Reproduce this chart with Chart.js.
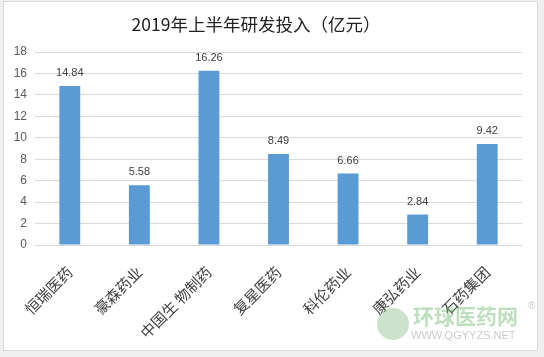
<!DOCTYPE html>
<html><head><meta charset="utf-8">
<script src="https://cdn.jsdelivr.net/npm/chart.js@4"></script>
<style>
html,body{margin:0;padding:0;background:#efefef;width:544px;height:357px;overflow:hidden;}
#box{position:absolute;left:3px;top:1px;width:533px;height:348px;background:#fff;border:1px solid #d9d9d9;}
canvas{display:block;}
</style></head><body>
<div id="box"><canvas id="c" width="533" height="348"></canvas></div>
<script>
const chartTitle = '2019年上半年研发投入（亿元）';
const categories = ['恒瑞医药','豪森药业','中国生 物制药','复星医药','科伦药业','康弘药业','石药集团'];
const values = [14.84, 5.58, 16.26, 8.49, 6.66, 2.84, 9.42];
const yTicks = [0,2,4,6,8,10,12,14,16,18];

const CJK = '"Microsoft YaHei","Noto Sans CJK SC",sans-serif';

const overlay = {
  id:'overlay',
  afterDatasetsDraw(chart){
    const ctx = chart.ctx;
    const meta = chart.getDatasetMeta(0);
    ctx.save();
    ctx.fillStyle = '#404040';
    ctx.font = '11px "Liberation Sans", Calibri, sans-serif';
    ctx.textAlign = 'center';
    ctx.textBaseline = 'middle';
    meta.data.forEach((bar,i)=>{
      ctx.fillText(values[i].toFixed(2), bar.x, bar.y - 13);
    });
    ctx.restore();
  },
  afterDraw(chart){
    const ctx = chart.ctx;
    ctx.save();
    ctx.fillStyle = '#222';
    ctx.font = '17.5px ' + CJK;
    ctx.textAlign = 'center';
    ctx.textBaseline = 'middle';
    ctx.fillText(chartTitle, 252, 22);
    // watermark
    ctx.globalAlpha = 0.45;
    ctx.fillStyle = '#8cc28c';
    ctx.beginPath(); ctx.arc(389, 322, 16, 0, Math.PI*2); ctx.fill();
    ctx.fillStyle = '#6fb86f';
    ctx.font = 'bold 21px ' + CJK;
    ctx.textAlign = 'left';
    ctx.fillText('环球医药网', 409, 314);
    ctx.fillStyle = '#8a8a8a';
    ctx.font = '11px "Liberation Sans", sans-serif';
    ctx.fillText('WWW.QGYYZS.NET', 407, 334);
    ctx.font = '10px "Liberation Sans", sans-serif';
    ctx.fillText('®', 524, 304);
    ctx.restore();
  }
};

new Chart(document.getElementById('c'), {
  type:'bar',
  data:{ labels:categories, datasets:[{ data:values, backgroundColor:'#5b9bd5', barPercentage:0.30, categoryPercentage:1.0 }]},
  options:{
    responsive:false, animation:false,
    layout:{ padding:{ top:50, right:15, left:0, bottom:0 } },
    plugins:{ legend:{display:false}, title:{display:false}, tooltip:{enabled:false} },
    scales:{
      x:{
        grid:{ display:false, drawTicks:false },
        border:{ display:false },
        ticks:{ color:'#404040', font:{ size:15, family:'"Microsoft YaHei","Noto Sans CJK SC",sans-serif' }, minRotation:45, maxRotation:45, autoSkip:false, padding:18 },
        afterFit(s){ s.height = 105; }
      },
      y:{
        min:0, max:18,
        afterBuildTicks(s){ s.ticks = yTicks.map(v=>({value:v})); },
        grid:{ color:'#d9d9d9', drawTicks:false, lineWidth:1 },
        border:{ display:false },
        ticks:{ color:'#595959', font:{ size:12, family:'"Liberation Sans", Calibri, sans-serif' }, padding:8 },
        afterFit(s){ s.width = 31; }
      }
    }
  },
  plugins:[overlay]
});
</script>
</body></html>
